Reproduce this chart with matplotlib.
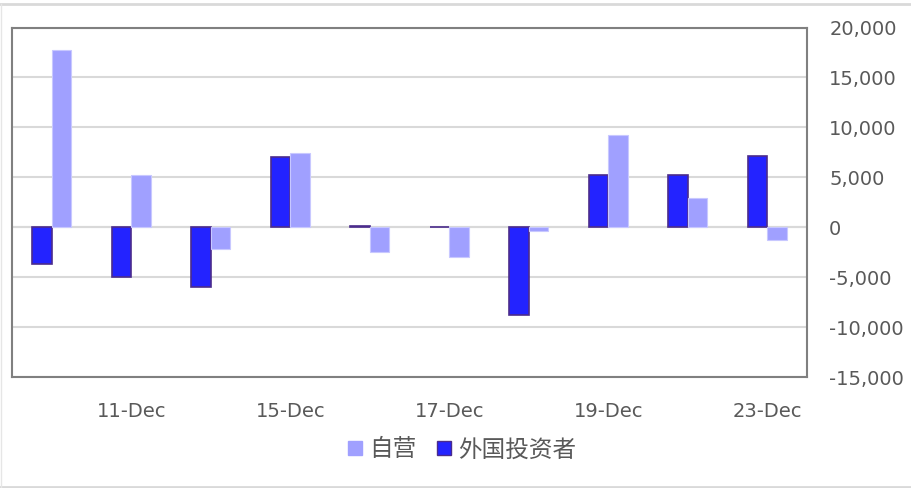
import numpy as np
import matplotlib
matplotlib.use("Agg")
import matplotlib.pyplot as plt
from matplotlib.ticker import FuncFormatter
from matplotlib.lines import Line2D

plt.rcParams['font.family'] = ['DejaVu Sans', 'Noto Sans CJK SC']

dates = ["10-Dec", "11-Dec", "12-Dec", "15-Dec", "16-Dec",
         "17-Dec", "18-Dec", "19-Dec", "22-Dec", "23-Dec"]
proprietary = [17700, 5270, -2200, 7470, -2530, -3030, -330, 9200, 2930, -1270]
foreign = [-3730, -5000, -6000, 7000, 150, 60, -8830, 5270, 5270, 7170]

fig = plt.figure(figsize=(9.11, 4.88), dpi=100)
ax = fig.add_axes([12 / 911, 1 - 377 / 488, 795 / 911, 349.5 / 488])

x = np.arange(len(dates))
w = 0.245
ax.bar(x - w / 2, foreign, w, color="#2323FF", edgecolor="#4B2C8C",
       linewidth=1.2, label="外国投资者", zorder=3)
ax.bar(x + w / 2, proprietary, w, color="#A0A0FF", edgecolor="#C8C8FF",
       linewidth=0.8, label="自营", zorder=3)

ax.set_xlim(-0.5, len(dates) - 0.5)
ax.set_ylim(-15000, 20000)
ax.set_yticks(np.arange(-15000, 20001, 5000))
ax.yaxis.set_major_formatter(FuncFormatter(lambda v, p: f"{int(v):,}"))
ax.yaxis.tick_right()
ax.set_xticks(x[1::2])
ax.set_xticklabels(dates[1::2])
ax.tick_params(length=0, labelsize=14, colors="#595959")
ax.tick_params(axis="x", pad=18)
ax.tick_params(axis="y", pad=16)
ax.grid(axis="y", color="#D9D9D9", linewidth=1.5, zorder=0)
ax.axhline(0, color="#D9D9D9", linewidth=1.5, zorder=2)
for s in ax.spines.values():
    s.set_color("#808080")
    s.set_linewidth(1.5)

handles = [Line2D([], [], marker="s", linestyle="", markersize=10,
                  markerfacecolor="#A0A0FF", markeredgecolor="#A0A0FF"),
           Line2D([], [], marker="s", linestyle="", markersize=10,
                  markerfacecolor="#2323FF", markeredgecolor="#4B2C8C")]
fig.legend(handles, ["自营", "外国投资者"], loc="center",
           bbox_to_anchor=(462 / 911, 1 - 450 / 488), ncol=2, frameon=False,
           prop={"family": ["Noto Sans CJK SC"], "size": 17},
           labelcolor="#595959", handlelength=0.6, handletextpad=0.3,
           columnspacing=0.9)

fig.add_artist(Line2D([0, 1], [1 - 4 / 488, 1 - 4 / 488], color="#D9D9D9", linewidth=2))
fig.add_artist(Line2D([0, 1], [1 / 488, 1 / 488], color="#D9D9D9", linewidth=2))
fig.add_artist(Line2D([0.5 / 911, 0.5 / 911], [1 / 488, 1 - 4 / 488], color="#E6E6E6", linewidth=1))

fig.savefig("out.png", dpi=100)
